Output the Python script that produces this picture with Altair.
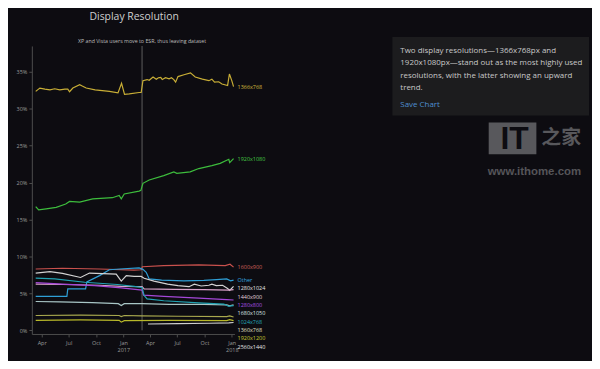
import altair as alt
import pandas as pd

TITLE = "Display Resolution"
ANNOTATION = "XP and Vista users move to ESR, thus leaving dataset"
ANNOTATION_DATE = "2017-03-05"
NOTE_LINES = [
    "Two display resolutions\u20141366x768px and",
    "1920x1080px\u2014stand out as the most highly used",
    "resolutions, with the latter showing an upward",
    "trend.",
]
SAVE_LABEL = "Save Chart"
WM_URL = "www.ithome.com"

series_names = ["1366x768", "1920x1080", "1600x900", "Other", "1280x1024", "1440x900",
                "1280x800", "1680x1050", "1024x768", "1360x768", "1920x1200", "2560x1440"]
line_colors = ["#c8ae36", "#3dbd3d", "#c9514d", "#2f9fd6", "#d2d2d2", "#d9a3c9",
               "#a548d8", "#a9c6c6", "#21a3b3", "#a9a94e", "#b8b82a", "#cfcfcf"]
label_colors = ["#d4b93c", "#45c845", "#d0605c", "#35a8e0", "#e6e6e6", "#e0d0dc",
                "#a850e0", "#dde6e6", "#25a9bb", "#e0e0c8", "#c8c832", "#e6e6e6"]

d_1366 = ["2016-03-12", "2016-03-26", "2016-04-12", "2016-04-29", "2016-05-15", "2016-06-01",
          "2016-06-18", "2016-06-28", "2016-07-04", "2016-07-15", "2016-08-07", "2016-08-14",
          "2016-08-29", "2016-09-28", "2016-11-15", "2016-12-14", "2016-12-26", "2017-01-05",
          "2017-01-21", "2017-02-23", "2017-03-02", "2017-03-08", "2017-03-22", "2017-03-29",
          "2017-04-11", "2017-04-22", "2017-04-29", "2017-05-07", "2017-05-12", "2017-05-23",
          "2017-06-04", "2017-06-12", "2017-06-20", "2017-06-26", "2017-07-04", "2017-07-24",
          "2017-08-15", "2017-08-31", "2017-09-24", "2017-10-16", "2017-10-26", "2017-11-04",
          "2017-11-18", "2017-11-29", "2017-12-18", "2017-12-24", "2018-01-01", "2018-01-07"]
v_1366 = [32.35, 32.8, 32.65, 32.55, 32.7, 32.55, 32.65, 32.65, 32.3, 32.8, 33.25, 33.1,
          32.8, 32.55, 32.35, 32.15, 33.45, 31.95, 32.0, 32.2, 32.2, 33.8, 33.95, 33.85,
          34.3, 34.0, 34.2, 34.25, 33.95, 34.2, 34.05, 34.2, 33.95, 33.6, 34.35, 34.6,
          34.85, 34.3, 34.0, 33.8, 34.0, 33.6, 33.65, 33.35, 33.15, 34.7, 33.8, 33.0]

d_1920 = ["2016-03-12", "2016-03-22", "2016-04-16", "2016-05-20", "2016-06-21", "2016-07-04",
          "2016-08-07", "2016-09-20", "2016-11-25", "2016-12-18", "2016-12-25", "2017-01-04",
          "2017-02-23", "2017-03-01", "2017-03-08", "2017-03-29", "2017-05-17", "2017-06-20",
          "2017-06-30", "2017-08-14", "2017-09-12", "2017-10-26", "2017-11-23", "2017-12-22",
          "2017-12-25", "2018-01-07"]
v_1920 = [16.75, 16.3, 16.45, 16.65, 17.1, 17.45, 17.35, 17.8, 17.95, 18.25, 17.8, 18.45,
          18.85, 18.95, 19.9, 20.35, 20.95, 21.45, 21.25, 21.45, 21.9, 22.3, 22.6, 23.15,
          22.7, 23.25]

d_1600 = ["2016-03-12", "2016-06-10", "2016-10-13", "2017-02-06", "2017-03-02", "2017-03-06",
          "2017-05-17", "2017-09-12", "2017-12-10", "2017-12-26", "2018-01-07"]
v_1600 = [8.3, 8.4, 8.3, 8.15, 8.2, 8.6, 8.75, 8.85, 8.75, 8.95, 8.55]

d_other = ["2016-03-12", "2016-06-25", "2016-06-28", "2016-08-27", "2016-08-31", "2016-10-13",
           "2016-11-15", "2016-12-20", "2017-02-23", "2017-03-08", "2017-03-19", "2017-03-29",
           "2017-05-10", "2017-07-24", "2017-09-29", "2017-11-10", "2017-12-15", "2017-12-28",
           "2018-01-07"]
v_other = [4.6, 4.6, 5.6, 5.6, 6.55, 7.4, 8.2, 8.3, 8.45, 8.25, 7.85, 6.95,
           6.8, 6.7, 6.75, 6.85, 6.95, 6.7, 6.8]

d_1280x1024 = ["2016-03-12", "2016-04-29", "2016-06-10", "2016-08-10", "2016-09-09", "2016-12-08",
               "2016-12-25", "2017-01-11", "2017-02-06", "2017-03-02", "2017-03-12", "2017-04-14",
               "2017-05-30", "2017-07-04", "2017-08-10", "2017-08-28", "2017-09-20", "2017-10-16",
               "2017-10-26", "2017-11-10", "2017-12-01", "2017-12-18", "2017-12-25", "2018-01-07"]
v_1280x1024 = [7.75, 7.95, 7.7, 7.15, 7.75, 7.6, 6.65, 7.4, 7.3, 7.3, 7.05, 6.65,
               6.25, 6.05, 5.9, 6.25, 6.0, 6.1, 6.25, 6.05, 6.1, 5.65, 5.4, 5.95]

d_1440 = ["2016-03-12", "2016-06-10", "2016-10-13", "2016-12-25", "2017-03-05", "2017-03-12",
          "2017-06-20", "2017-09-29", "2017-12-22", "2018-01-07"]
v_1440 = [6.25, 6.2, 6.1, 5.95, 5.9, 5.6, 5.55, 5.5, 5.45, 5.5]

d_1280x800 = ["2016-03-12", "2016-06-10", "2016-09-26", "2016-12-25", "2017-03-05", "2017-03-10",
              "2017-05-17", "2017-09-12", "2017-12-15", "2018-01-07"]
v_1280x800 = [6.45, 6.25, 6.05, 5.75, 5.45, 4.75, 4.6, 4.35, 4.15, 4.1]

d_1680 = ["2016-03-12", "2016-06-01", "2016-09-19", "2016-12-15", "2016-12-25", "2017-01-04",
          "2017-03-05", "2017-06-04", "2017-09-29", "2017-12-15", "2017-12-25", "2018-01-07"]
v_1680 = [3.9, 3.85, 3.75, 3.6, 3.35, 3.6, 3.6, 3.5, 3.5, 3.45, 3.3, 3.45]

d_1024 = ["2016-03-12", "2016-05-15", "2016-08-24", "2016-12-12", "2017-02-06", "2017-03-05",
          "2017-03-12", "2017-03-22", "2017-05-17", "2017-09-12", "2017-12-05", "2017-12-22",
          "2017-12-28", "2018-01-07"]
v_1024 = [7.05, 6.95, 6.5, 6.2, 5.95, 5.8, 4.7, 4.25, 4.0, 3.7, 3.55, 3.25, 3.3, 3.35]

d_1360 = ["2016-03-12", "2016-08-10", "2016-12-18", "2016-12-25", "2017-01-04", "2017-03-05",
          "2017-07-04", "2017-12-15", "2017-12-25", "2018-01-07"]
v_1360 = [2.0, 2.05, 2.0, 1.85, 2.0, 1.95, 1.9, 1.85, 1.95, 1.8]

d_1920x1200 = ["2016-03-12", "2016-08-10", "2016-12-18", "2016-12-25", "2017-01-04", "2017-06-04",
               "2017-12-15", "2017-12-25", "2018-01-07"]
v_1920x1200 = [1.35, 1.4, 1.35, 1.1, 1.3, 1.35, 1.3, 1.45, 1.3]

d_2560 = ["2017-03-25", "2017-07-04", "2017-10-16", "2017-12-22", "2018-01-07"]
v_2560 = [0.85, 0.9, 0.95, 1.0, 1.05]

series_data = {
    "1366x768": (d_1366, v_1366),
    "1920x1080": (d_1920, v_1920),
    "1600x900": (d_1600, v_1600),
    "Other": (d_other, v_other),
    "1280x1024": (d_1280x1024, v_1280x1024),
    "1440x900": (d_1440, v_1440),
    "1280x800": (d_1280x800, v_1280x800),
    "1680x1050": (d_1680, v_1680),
    "1024x768": (d_1024, v_1024),
    "1360x768": (d_1360, v_1360),
    "1920x1200": (d_1920x1200, v_1920x1200),
    "2560x1440": (d_2560, v_2560),
}

rows = []
for name in series_names:
    ds, vs = series_data[name]
    assert len(ds) == len(vs), name
    rows += [{"series": name, "date": d, "value": v} for d, v in zip(ds, vs)]
df = pd.DataFrame(rows)

# end-of-line labels, pushed apart so that they do not overlap
GAP = 1.13
ends = sorted(((series_data[n][1][-1], n) for n in series_names), reverse=True)
label_rows = []
prev = None
for v, n in ends:
    lv = v if prev is None else min(v, prev - GAP)
    prev = lv
    label_rows.append({"series": n, "date": series_data[n][0][-1], "value": lv,
                       "lcolor": label_colors[series_names.index(n)]})
labels_df = pd.DataFrame(label_rows)

ann_df = pd.DataFrame({"date": [ANNOTATION_DATE], "value": [0], "label": [ANNOTATION]})
static = pd.DataFrame({"k": [0]})

FONT = "Open Sans"
AXIS_COLOR = "#4d4d4d"
LABEL_COLOR = "#9c9c9c"

x_scale = alt.Scale(type="utc", domain=[alt.DateTime(year=2016, month=2, date=28, utc=True),
                                         alt.DateTime(year=2018, month=1, date=10, utc=True)])
y_scale = alt.Scale(domain=[-0.5, 38.5], nice=False, zero=False)

tick_dates = [alt.DateTime(year=y, month=m, date=1, utc=True)
              for (y, m) in [(2016, 4), (2016, 7), (2016, 10), (2017, 1), (2017, 4), (2017, 7), (2017, 10), (2018, 1)]]

x_axis = alt.Axis(values=tick_dates, title=None, grid=False,
                  labelExpr="utcmonth(datum.value) == 0 ? [utcFormat(datum.value, '%b'), utcFormat(datum.value, '%Y')] : utcFormat(datum.value, '%b')",
                  domainColor=AXIS_COLOR, tickColor=AXIS_COLOR, tickSize=3,
                  labelColor=LABEL_COLOR, labelFont=FONT, labelFontSize=5.5, labelPadding=4,
                  labelLineHeight=7, labelOverlap=False, labelFlush=False)
y_axis = alt.Axis(values=list(range(0, 40, 5)), title=None, grid=False,
                  labelExpr="datum.value + '%'",
                  domainColor=AXIS_COLOR, tickColor=AXIS_COLOR, tickSize=3,
                  labelColor=LABEL_COLOR, labelFont=FONT, labelFontSize=5.5, labelPadding=2)

X = alt.X("date:T", scale=x_scale, axis=x_axis)
Y = alt.Y("value:Q", scale=y_scale, axis=y_axis)

lines = alt.Chart(df).mark_line(strokeWidth=1.2).encode(
    x=X, y=Y,
    color=alt.Color("series:N", scale=alt.Scale(domain=series_names, range=line_colors), legend=None),
    detail="series:N",
)

end_labels = alt.Chart(labels_df).mark_text(align="left", baseline="middle", dx=4, fontSize=5.5, font=FONT).encode(
    x=X, y=Y,
    text="series:N",
    color=alt.Color("lcolor:N", scale=None),
)

rule = alt.Chart(ann_df).mark_rule(color="#5e5e5e", strokeWidth=1).encode(
    x=X, y=Y, y2=alt.value(0),
)

ann_text = alt.Chart(ann_df).mark_text(fontSize=5.3, font=FONT, color="#bdbdbd", align="center", baseline="middle").encode(
    x=X, y=alt.value(-5), text="label:N",
)

title = alt.Chart(static).mark_text(text=TITLE, fontSize=10.5, font=FONT, color="#cfcfcf",
                                    align="center", baseline="middle").encode(
    x=alt.value(103), y=alt.value(-29.5))

note_box = alt.Chart(static).mark_rect(color="#1c1c1e").encode(
    x=alt.value(363), x2=alt.value(561), y=alt.value(-9), y2=alt.value(70))

note_text = alt.Chart(static).mark_text(text=NOTE_LINES, fontSize=8, font=FONT, color="#c8c8c8",
                                        align="left", baseline="alphabetic", lineHeight=12.7).encode(
    x=alt.value(371), y=alt.value(6.6))

save_text = alt.Chart(static).mark_text(text=SAVE_LABEL, fontSize=8, font=FONT, color="#4f8fd0",
                                        align="left", baseline="alphabetic").encode(
    x=alt.value(371), y=alt.value(61))

wm_box = alt.Chart(static).mark_rect(color="#58585c").encode(
    x=alt.value(460), x2=alt.value(508), y=alt.value(77), y2=alt.value(109))
wm_it = alt.Chart(static).mark_text(text="IT", fontSize=32, font="Liberation Sans", fontWeight="bold",
                                    color="#0d0c11", align="center", baseline="middle").encode(
    x=alt.value(486), y=alt.value(94))
wm_cn = alt.Chart(static).mark_text(text="之家", fontSize=20, font="Noto Sans CJK SC", fontWeight="bold",
                                    color="#58585c", align="left", baseline="middle").encode(
    x=alt.value(513), y=alt.value(93))
wm_url = alt.Chart(static).mark_text(text=WM_URL, fontSize=11.5, font="Liberation Sans", fontWeight="bold",
                                     color="#555559", align="left", baseline="middle").encode(
    x=alt.value(459), y=alt.value(127))

chart = alt.layer(
    note_box, wm_box, wm_it, wm_cn, wm_url, note_text, save_text,
    rule, ann_text, lines, end_labels, title,
).properties(
    width=204, height=290,
    autosize=alt.AutoSizeParams(type="none"),
    padding={"left": 24, "top": 37, "right": 360, "bottom": 26},
).configure(background="#0d0c11").configure_view(stroke=None)

chart.save("out.html", embed_options={"renderer": "svg", "actions": False})
